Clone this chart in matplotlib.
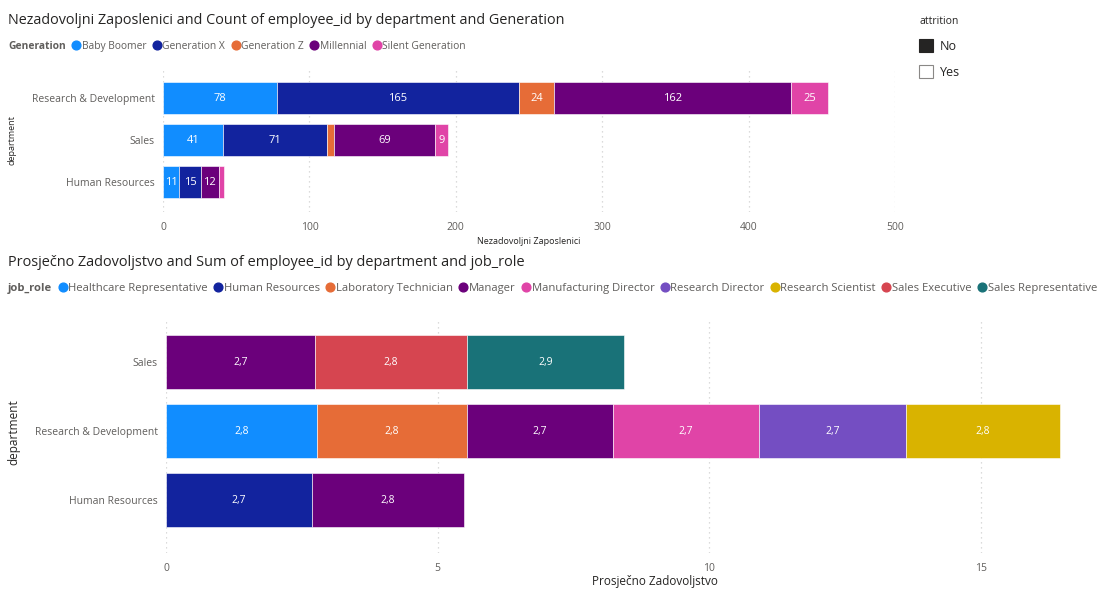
import matplotlib
matplotlib.use("Agg")
import matplotlib.pyplot as plt
from matplotlib.lines import Line2D
from matplotlib.patches import Rectangle

plt.rcParams["font.family"] = ["Open Sans", "DejaVu Sans"]

W, H = 1102, 589

# ---- top chart: Nezadovoljni Zaposlenici by department and Generation
top_departments = ["Research & Development", "Sales", "Human Resources"]
generations = ["Baby Boomer", "Generation X", "Generation Z", "Millennial", "Silent Generation"]
gen_colors = ["#118DFF", "#12239E", "#E66C37", "#6B007B", "#E044A7"]
baby_boomer = [78, 41, 11]
generation_x = [165, 71, 15]
generation_z = [24, 5, 0]
millennial = [162, 69, 12]
silent_gen = [25, 9, 4]
top_ticks = [0, 100, 200, 300, 400, 500]

# ---- bottom chart: Prosječno Zadovoljstvo by department and job_role
bot_departments = ["Sales", "Research & Development", "Human Resources"]
job_roles = ["Healthcare Representative", "Human Resources", "Laboratory Technician",
             "Manager", "Manufacturing Director", "Research Director",
             "Research Scientist", "Sales Executive", "Sales Representative"]
role_colors = ["#118DFF", "#12239E", "#E66C37", "#6B007B", "#E044A7",
               "#744EC2", "#D9B300", "#D64550", "#197278"]
healthcare_rep = [0, 2.78, 0]
hr_role = [0, 0, 2.69]
lab_tech = [0, 2.76, 0]
manager = [2.74, 2.69, 2.80]
manuf_director = [0, 2.69, 0]
research_director = [0, 2.70, 0]
research_scientist = [0, 2.84, 0]
sales_exec = [2.80, 0, 0]
sales_rep = [2.90, 0, 0]
bot_ticks = [0, 5, 10, 15]

GRAY = "#605E5C"
DARK = "#252423"


def px(x, y):
    return x / W, 1 - y / H


def stacked(ax, cats, series, colors, fmt, min_label, fs):
    left = [0.0] * len(cats)
    for vals, col in zip(series, colors):
        for i, v in enumerate(vals):
            if v <= 0:
                continue
            ax.barh(i, v, left=left[i], height=0.78, color=col,
                    edgecolor="white", linewidth=0.4)
            if v >= min_label:
                ax.text(left[i] + v / 2, i, fmt(v), ha="center", va="center",
                        color="white", fontsize=fs)
            left[i] += v
    ax.set_yticks(range(len(cats)))
    ax.set_yticklabels(cats)
    for s in ax.spines.values():
        s.set_visible(False)
    ax.tick_params(length=0, colors=GRAY)
    ax.grid(axis="x", linestyle=(0, (1, 3)), color="#D0D0D0", lw=0.9)
    ax.set_axisbelow(True)


def legend_row(fig, x, y, title, labels, colors, fs, gap):
    r = fig.canvas.get_renderer()
    t = fig.text(*px(x, y), title, fontsize=fs, weight="bold", color=GRAY,
                 va="center_baseline")
    cx = t.get_window_extent(r).x1 + gap
    for lab, col in zip(labels, colors):
        fig.add_artist(Line2D([(cx + 4.5) / W], [1 - y / H], marker="o", ms=6.3,
                              color=col, transform=fig.transFigure, lw=0))
        tt = fig.text((cx + 10) / W, 1 - y / H, lab, fontsize=fs, color=GRAY,
                      va="center_baseline")
        cx = tt.get_window_extent(r).x1 + gap


fig = plt.figure(figsize=(W / 100, H / 100), dpi=100)

# top axes
ax1 = fig.add_axes([163 / W, 1 - 212 / H, 732 / W, 142 / H])
stacked(ax1, top_departments,
        [baby_boomer, generation_x, generation_z, millennial, silent_gen],
        gen_colors, lambda v: f"{v:d}", 8, 8)
ax1.set_xlim(0, 500)
ax1.set_ylim(2.714, -0.667)
ax1.set_xticks(top_ticks)
ax1.tick_params(axis="x", labelsize=7.5, pad=7)
ax1.tick_params(axis="y", labelsize=7.5, pad=6)
fig.text(*px(529, 241), "Nezadovoljni Zaposlenici", fontsize=6.5, color=DARK,
         ha="center", va="center")
fig.text(*px(12, 140), "department", fontsize=6.5, color=DARK, rotation=90,
         ha="center", va="center")

# bottom axes
ax2 = fig.add_axes([166 / W, 1 - 553 / H, 934 / W, 235 / H])
stacked(ax2, bot_departments,
        [healthcare_rep, hr_role, lab_tech, manager, manuf_director,
         research_director, research_scientist, sales_exec, sales_rep],
        role_colors, lambda v: f"{v:.1f}".replace(".", ","), 0.5, 7.5)
ax2.set_xlim(0, 17.2)
ax2.set_ylim(2.768, -0.638)
ax2.set_xticks(bot_ticks)
ax2.tick_params(axis="x", labelsize=7.5, pad=7)
ax2.tick_params(axis="y", labelsize=7.5, pad=6)
fig.text(*px(655, 582), "Prosječno Zadovoljstvo", fontsize=8.5, color=DARK,
         ha="center", va="center")
fig.text(*px(14, 432), "department", fontsize=8.5, color=DARK, rotation=90,
         ha="center", va="center")

# titles and legends
fig.text(*px(8, 20), "Nezadovoljni Zaposlenici and Count of employee_id by department and Generation",
         fontsize=10.35, color=DARK, va="center")
legend_row(fig, 8, 45, "Generation", generations, gen_colors, 7.4, 6)
fig.text(*px(8, 262), "Prosječno Zadovoljstvo and Sum of employee_id by department and job_role",
         fontsize=10.45, color=DARK, va="center")
legend_row(fig, 8, 287, "job_role", job_roles, role_colors, 8.1, 6)

# attrition slicer
fig.text(*px(919, 22), "attrition", fontsize=7.5, color=DARK, va="center")
fig.add_artist(Rectangle(px(919, 52), 14 / W, 13 / H, transform=fig.transFigure,
                         facecolor=DARK, edgecolor=DARK, lw=0.8))
fig.text(*px(940, 46), "No", fontsize=9, color=DARK, va="center")
fig.add_artist(Rectangle(px(919, 78), 14 / W, 13 / H, transform=fig.transFigure,
                         facecolor="white", edgecolor="#8A8886", lw=0.8))
fig.text(*px(940, 72), "Yes", fontsize=9, color=DARK, va="center")

fig.savefig("out.png", dpi=100)
